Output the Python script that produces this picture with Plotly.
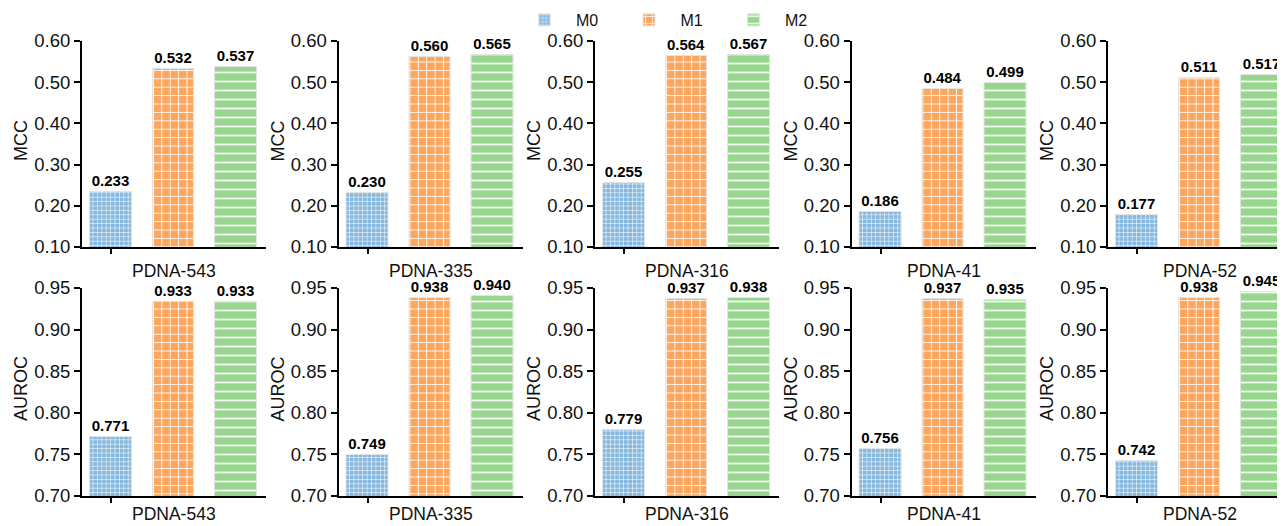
import plotly.graph_objects as go

# ---------------- data ----------------
datasets = ["PDNA-543", "PDNA-335", "PDNA-316", "PDNA-41", "PDNA-52"]
models = ["M0", "M1", "M2"]
model_pos = [0, 1, 2]

mcc_m0 = [0.233, 0.230, 0.255, 0.186, 0.177]
mcc_m1 = [0.532, 0.560, 0.564, 0.484, 0.511]
mcc_m2 = [0.537, 0.565, 0.567, 0.499, 0.517]

auroc_m0 = [0.771, 0.749, 0.779, 0.756, 0.742]
auroc_m1 = [0.933, 0.938, 0.937, 0.937, 0.938]
auroc_m2 = [0.933, 0.940, 0.938, 0.935, 0.945]

mcc_ticks = [0.10, 0.20, 0.30, 0.40, 0.50, 0.60]
auroc_ticks = [0.70, 0.75, 0.80, 0.85, 0.90, 0.95]

# ---------------- styles ----------------
W, H = 1285, 526
OFF = 8  # page body margin the browser adds around the figure
VIS_W = W - OFF
colors = {"M0": "#86b8de", "M1": "#fca65e", "M2": "#97d78d"}
patterns = {
    "M0": dict(shape="+", size=4.4, solidity=0.25),
    "M1": dict(shape="+", size=8.4, solidity=0.22),
    "M2": dict(shape="-", size=9.0, solidity=0.2),
}
FONT = "Liberation Sans, Arial, sans-serif"

panel_left_px = [82 - OFF, 338.5 - OFF, 595 - OFF, 851.5 - OFF, 1108 - OFF]
panel_w_px = 184
px_per_unit = 62.5
x_left = -0.464
rows = [
    dict(top=41 - OFF, bottom=247 - OFF, rng=[0.10, 0.60], ticks=mcc_ticks, title="MCC",
         vals={"M0": mcc_m0, "M1": mcc_m1, "M2": mcc_m2}, label_y=271 - OFF),
    dict(top=288 - OFF, bottom=496 - OFF, rng=[0.70, 0.95], ticks=auroc_ticks, title="AUROC",
         vals={"M0": auroc_m0, "M1": auroc_m1, "M2": auroc_m2}, label_y=514 - OFF),
]

fig = go.Figure()
annotations = []
idx = 0
for r, row in enumerate(rows):
    for c, ds in enumerate(datasets):
        idx += 1
        xa = "x" if idx == 1 else f"x{idx}"
        ya = "y" if idx == 1 else f"y{idx}"
        left = panel_left_px[c]
        right = min(left + panel_w_px, VIS_W)
        xr = [x_left, x_left + (right - left) / px_per_unit]
        for m, pos in zip(models, model_pos):
            v = row["vals"][m][c]
            fig.add_trace(go.Bar(
                x=[pos], y=[v], width=0.67,
                name=m, legendgroup=m, showlegend=(idx == 1),
                xaxis=xa, yaxis=ya,
                marker=dict(
                    color=colors[m],
                    line=dict(color="#e4e4e4", width=1),
                    pattern=dict(fillmode="overlay", bgcolor=colors[m], fgcolor="white",
                                 fgopacity=0.9, **patterns[m]),
                ),
                text=[f"{v:.3f}"], textposition="outside", cliponaxis=False,
                constraintext="none",
                textfont=dict(family=FONT, size=15, color="black", weight="bold"),
            ))
        xkey = "xaxis" if idx == 1 else f"xaxis{idx}"
        ykey = "yaxis" if idx == 1 else f"yaxis{idx}"
        fig.update_layout({
            xkey: dict(domain=[left / W, right / W], anchor=ya, range=xr,
                       showgrid=False, zeroline=False, showline=True, linecolor="black",
                       linewidth=2, ticks="outside", ticklen=5, tickwidth=1.5,
                       tickcolor="black", tickvals=[model_pos[0]], ticktext=[""],
                       automargin=False, fixedrange=True),
            ykey: dict(domain=[1 - row["bottom"] / H, 1 - row["top"] / H], anchor=xa,
                       range=row["rng"], tickvals=row["ticks"], tickformat=".2f",
                       showgrid=False, zeroline=False, showline=True, linecolor="black",
                       linewidth=2, ticks="outside", ticklen=6, tickwidth=1.5,
                       tickcolor="black", tickfont=dict(family=FONT, size=18.5, color="#111"),
                       automargin=False, fixedrange=True),
        })
        # x label (dataset name) centered under the panel
        annotations.append(dict(
            text=ds, xref="paper", yref="paper",
            x=(left + (left + panel_w_px)) / 2 / W, y=1 - row["label_y"] / H,
            xanchor="center", yanchor="middle", showarrow=False,
            font=dict(family=FONT, size=17.5, color="#111")))
        # y title
        annotations.append(dict(
            text=row["title"], xref="paper", yref="paper",
            x=(left - 61) / W, y=1 - ((row["top"] + row["bottom"]) / 2 - 3) / H,
            xanchor="center", yanchor="middle", textangle=-90, showarrow=False,
            font=dict(family=FONT, size=18, color="#111")))

fig.update_layout(
    width=W, height=H,
    margin=dict(l=0, r=0, t=0, b=0, pad=0, autoexpand=False),
    paper_bgcolor="white", plot_bgcolor="white",
    barmode="overlay", bargap=0,
    annotations=annotations,
    legend=dict(orientation="h", x=(576 - 63 - OFF) / W, y=1 - (20 - OFF) / H,
                xanchor="left", yanchor="middle",
                font=dict(family=FONT, size=16, color="#111"),
                itemwidth=53, entrywidth=36.5, entrywidthmode="pixels",
                bgcolor="rgba(0,0,0,0)"),
)

fig.write_html("out.html")
